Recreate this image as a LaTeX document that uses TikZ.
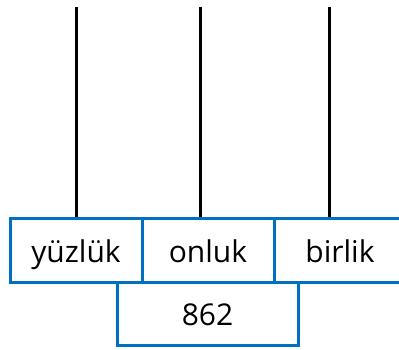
\documentclass[tikz,border=0pt]{standalone}
\usepackage{fontspec}
\setmainfont{Open Sans}
\definecolor{boxblue}{HTML}{0070C0}
\begin{document}
\begin{tikzpicture}[x=1pt,y=-1pt,
  cell/.style={draw=boxblue,line width=3pt,rectangle,inner sep=0pt,
    minimum height=64pt,font=\fontsize{30}{34}\selectfont,text=black,
    text height=26pt,text depth=2pt},
  rod/.style={black,line width=3pt}]
\useasboundingbox (0,0) rectangle (399,350);
\clip (0,0) rectangle (399,350);
\node[cell,minimum width=132pt] (yuz) at (76,250) {yüzlük};
\node[cell,minimum width=132pt] (on) at (208,250) {onluk};
\node[cell,minimum width=132pt] (bir) at (340,250) {birlik};
\node[cell,minimum width=181pt,minimum height=63pt,text height=23pt,text depth=0pt] (num) at (207.5,313.5) {862};
\coordinate (t1) at (76,7);
\coordinate (t2) at (200,7);
\coordinate (t3) at (329,7);
\draw[rod] (t1) -- (t1 |- yuz.north);
\draw[rod] (t2) -- (t2 |- on.north);
\draw[rod] (t3) -- (t3 |- bir.north);
\end{tikzpicture}
\end{document}
